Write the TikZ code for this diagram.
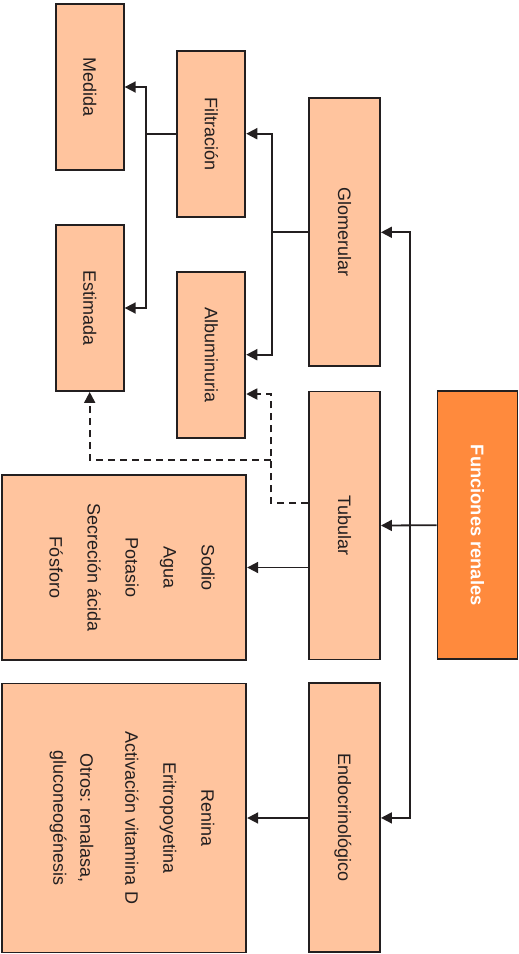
\documentclass[tikz,border=0pt]{standalone}
\usepackage{fontspec}
\setmainfont{Liberation Sans}
\usetikzlibrary{arrows.meta}
\definecolor{peach}{HTML}{FFC49E}
\definecolor{orng}{HTML}{FF8A3D}
\definecolor{ink}{HTML}{231F20}
\begin{document}
\begin{tikzpicture}[x=1pt,y=-1pt,
  box/.style={draw=ink, line width=1.9pt, fill=peach, inner sep=0pt},
  mainbox/.style={box, fill=orng},
  lbl/.style={rotate=-90, inner sep=0pt, text=ink, font=\fontsize{18}{27}\selectfont, text height=12.9pt, text depth=0pt},
  mainlbl/.style={rotate=-90, inner sep=0pt, text=white, font=\bfseries\fontsize{18.3}{22}\selectfont, text height=13.1pt, text depth=0pt},
  multi/.style={rotate=-90, inner sep=0pt, text=ink, font=\fontsize{18}{27}\selectfont, align=center},
  conn/.style={draw=ink, line width=1.8pt},
  arr/.style={conn, -{Triangle[length=11pt,width=11pt]}},
  dconn/.style={arr, dash pattern=on 7pt off 5pt}
]
\useasboundingbox (0,0) rectangle (519,954);

% boxes
\node[mainbox, minimum width=80pt, minimum height=268pt] (fun) at (477.5,525.2) {};
\node[box, minimum width=71pt, minimum height=268pt] (glo) at (344.5,232.3) {};
\node[box, minimum width=71pt, minimum height=268pt] (tub) at (344.5,525.5) {};
\node[box, minimum width=71pt, minimum height=269pt] (endo) at (344.5,817.9) {};
\node[box, minimum width=68pt, minimum height=166pt] (fil) at (211.3,133.7) {};
\node[box, minimum width=68pt, minimum height=166pt] (alb) at (211.3,354.7) {};
\node[box, minimum width=68pt, minimum height=166pt] (med) at (89.7,87) {};
\node[box, minimum width=68pt, minimum height=166pt] (est) at (89.7,308) {};
\node[box, minimum width=244pt, minimum height=185pt] (sod) at (124.2,567.5) {};
\node[box, minimum width=244pt, minimum height=269pt] (ren) at (124.2,818) {};

% texts
\node[mainlbl] (funT) at (fun) {Funciones renales};
\node[lbl] (gloT) at (glo) {Glomerular};
\node[lbl] (tubT) at (tub) {Tubular};
\node[lbl] (endoT) at (endo) {Endocrinológico};
\node[lbl] (filT) at (fil) {Filtración};
\node[lbl] (albT) at (alb) {Albuminuria};
\node[lbl] (medT) at (med) {Medida};
\node[lbl] (estT) at (est) {Estimada};
\node[multi] (sodT) at (132,567.5) {Sodio\\[11pt]Agua\\[11pt]Potasio\\[11pt]Secreción ácida\\[11pt]Fósforo};
\node[multi] (renT) at (132,818) {Renina\\[11pt]Eritropoyetina\\[11pt]Activación vitamina D\\[18pt]Otros: renalasa,\\gluconeogénesis};

% helper columns
\coordinate (sp) at (409.7,0);
\coordinate (ga) at (271.7,0);
\coordinate (fa) at (145.7,0);
\coordinate (dj) at (270.7,503);
\coordinate (dk) at (270.7,460);

% connectors
\draw[arr] (fun.west) -- (tub.east);
\draw[arr] (sp |- fun.west) |- (glo.east);
\draw[arr] (sp |- fun.west) |- (endo.east);
\draw[arr] (glo.west) -- (ga |- glo.west) |- (fil.east);
\draw[arr] (ga |- glo.west) |- (alb.east);
\draw[arr] (fil.west) -- (fa |- fil.west) |- (med.east);
\draw[arr] (fa |- fil.west) |- (est.east);
\draw[arr] (tub.west |- sod.east) -- (sod.east);
\draw[arr] (endo.west) -- (ren.east);
\draw[dconn] ([yshift=22.5pt]tub.west) -- (dj) |- ([yshift=-39.3pt]alb.east);
\draw[dconn] (dk) -| (est.south);
\end{tikzpicture}
\end{document}
